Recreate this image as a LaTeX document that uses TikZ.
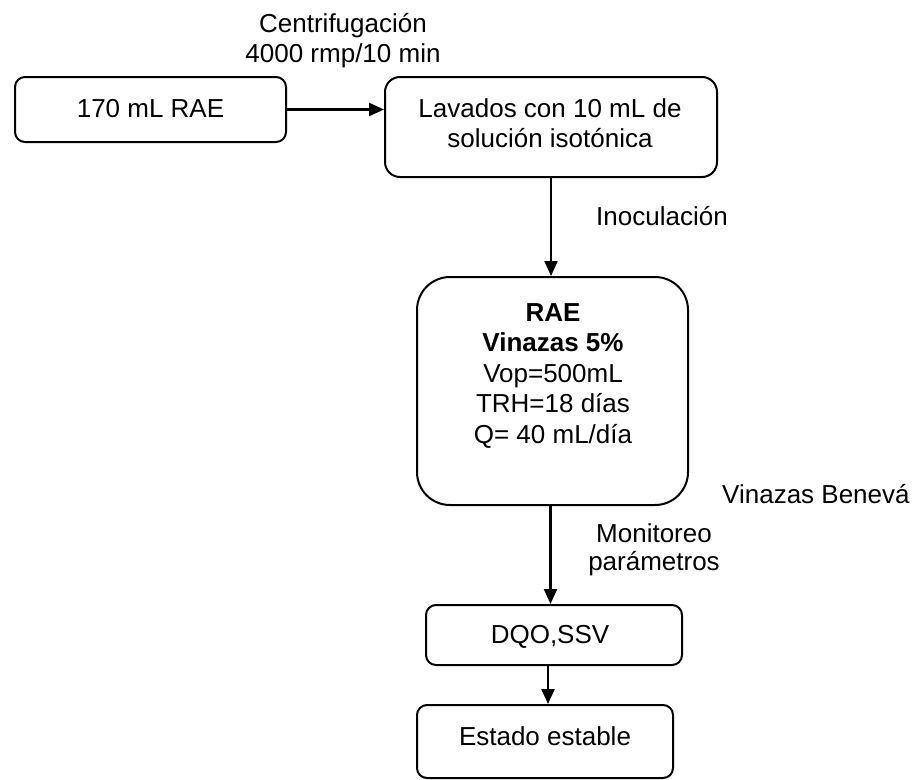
\documentclass[tikz,border=0pt]{standalone}
\usepackage{fontspec}
\setmainfont{Liberation Sans}
\usetikzlibrary{arrows.meta}
\begin{document}
\begin{tikzpicture}[x=1pt,y=-1pt,
  every node/.style={inner sep=0pt, font=\fontsize{26}{30.5}\selectfont},
  box/.style={draw, line width=2pt},
  link/.style={line width=2.2pt, -{Triangle[length=15pt,width=13pt]}},
  lbl/.style={align=center}]
\useasboundingbox (0,0) rectangle (917,779);

% process boxes
\node[box, rounded corners=10pt, minimum width=271pt, minimum height=65pt] (src) at (150.5,109.5) {};
\node[box, rounded corners=15pt, minimum width=332pt, minimum height=100pt] (wash) at (551,127) {};
\node[box, rounded corners=33pt, minimum width=271pt, minimum height=228pt] (rae) at (552.5,391) {};
\node[box, rounded corners=10pt, minimum width=256pt, minimum height=60pt] (dqo) at (554,635) {};
\node[box, rounded corners=10pt, minimum width=256pt, minimum height=73pt] (est) at (545,741.5) {};

% box contents
\node[anchor=base] (srctext) at (150.5,117) {170 mL RAE};
\node[anchor=north, lbl] (washtext) at (550,98.4) {Lavados con 10 mL de\\solución isotónica};
\node[anchor=north, lbl] (raetext) at (553,303.4) {\textbf{RAE}\\\textbf{Vinazas 5\%}\\Vop=500mL\\TRH=18 días\\Q= 40 mL/día};
\node[anchor=base] (dqotext) at (550,643) {DQO,SSV};
\node[anchor=base] (esttext) at (545,745) {Estado estable};

% step labels
\node[anchor=north, lbl] (centri) at (343,12.8) {Centrifugación\\4000 rmp/10 min};
\node[anchor=base] (inoc) at (662,225) {Inoculación};
\node[anchor=north, lbl, font=\fontsize{26}{28.5}\selectfont] (monit) at (654,523.1) {Monitoreo\\parámetros};
\node[anchor=base west] (vben) at (722,503) {Vinazas Benevá};

% connectors
\draw[link] (src.east) -- (src.east -| wash.west);
\draw[link] (wash.south) -- (wash.south |- rae.north);
\draw[link] ([xshift=-2pt]rae.south) -- ([xshift=-2pt]rae.south |- dqo.north);
\draw[link] ([xshift=3pt]est.north |- dqo.south) -- ([xshift=3pt]est.north);
\end{tikzpicture}
\end{document}
